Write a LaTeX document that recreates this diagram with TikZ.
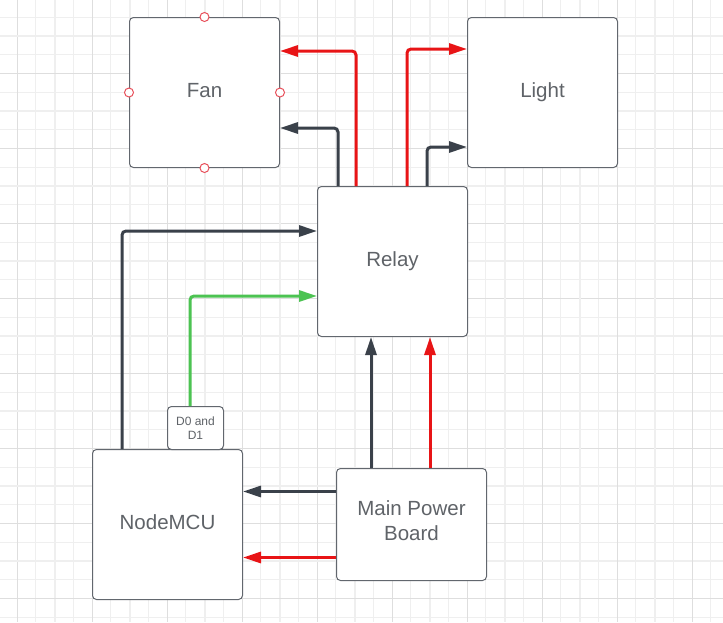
\documentclass[tikz,border=0pt]{standalone}
\usepackage{fontspec}
\setmainfont{Liberation Sans}
\usetikzlibrary{arrows.meta,calc}
\definecolor{wireD}{HTML}{3A414A}
\definecolor{wireR}{HTML}{E81416}
\definecolor{wireG}{HTML}{4CC352}
\definecolor{boxline}{HTML}{62676E}
\definecolor{txt}{HTML}{5F6368}
\definecolor{gridA}{HTML}{EFEFEF}
\definecolor{gridB}{HTML}{DEDEDE}
\definecolor{dotred}{HTML}{E8505B}
\tikzset{
  blk/.style={draw=boxline, line width=1pt, fill=white, rounded corners=4pt,
    minimum width=150pt, minimum height=150pt, anchor=north west, inner sep=0pt},
  lbl/.style={text=txt, font=\fontsize{20.5}{25}\selectfont, align=center, inner sep=0pt},
  lbl1/.style={lbl, text height=15pt, text depth=4pt, yshift=1pt},
  wire/.style={line width=3pt, rounded corners=4pt,
    -{Triangle[length=18pt,width=11pt]}},
  wd/.style={wire, draw=wireD, color=wireD},
  wr/.style={wire, draw=wireR, color=wireR},
  wg/.style={wire, draw=wireG, color=wireG},
  pin/.style={circle, draw=dotred, fill=white, line width=1pt, minimum size=9pt, inner sep=0pt},
}
\begin{document}
\begin{tikzpicture}[x=1pt,y=-1pt]
\useasboundingbox (0,0) rectangle (723,622);
\fill[white] (0,0) rectangle (723,622);
% grid
\foreach \i in {0,...,39} {
  \draw[gridA, line width=0.8pt] ({-1.75+18.75*\i},0) -- ({-1.75+18.75*\i},622);
  \draw[gridA, line width=0.8pt] (0,{-1.75+18.75*\i}) -- (723,{-1.75+18.75*\i});
}
\foreach \i in {0,...,10} {
  \draw[gridA, line width=1.6pt] ({55+75*\i-75},0) -- ({55+75*\i-75},622);
  \draw[gridA, line width=1.6pt] (0,{36+75*\i-75}) -- (723,{36+75*\i-75});
  \draw[gridB, line width=0.7pt] ({17+75*\i},0) -- ({17+75*\i},622);
  \draw[gridB, line width=0.7pt] (0,{-2+75*\i}) -- (723,{-2+75*\i});
}
% blocks
\node[blk] (fan) at (129,17) {};
\node[blk] (light) at (467,17) {};
\node[blk] (relay) at (317,186) {};
\node[blk] (mcu) at (92,449) {};
\node[blk, minimum height=112pt] (mpb) at (336,468) {};
\node[blk, minimum width=56pt, minimum height=43pt, text=txt, align=center,
  font=\fontsize{12}{15}\selectfont] (d01) at (167,406) {D0 and\\[-0.5pt]D1};
\node[lbl1] (tfan) at (fan.center) {Fan};
\node[lbl1] (tlight) at (light.center) {Light};
\node[lbl1] (trelay) at (relay.center) {Relay};
\node[lbl1] (tmcu) at (mcu.center) {NodeMCU};
\node[lbl, yshift=4pt] (tmpb) at (mpb.center) {Main Power\\Board};
% pins on fan
\node[pin] (p1) at (fan.north) {};
\node[pin] (p2) at (fan.south) {};
\node[pin] (p3) at (fan.west) {};
\node[pin] (p4) at (fan.east) {};
% relay -> fan / light
\draw[wd] ([xshift=21pt]relay.north west) |- ([yshift=-111pt]fan.north east);
\draw[wr] ([xshift=39pt]relay.north west) |- ([yshift=-34pt]fan.north east);
\draw[wr] ([xshift=90pt]relay.north west) |- ([yshift=-32pt]light.north west);
\draw[wd] ([xshift=110pt]relay.north west) |- ([yshift=-130pt]light.north west);
% nodemcu -> relay
\draw[wd] ([xshift=30pt]mcu.north west) |- ([yshift=-45pt]relay.north west);
\draw[wg] ([xshift=23pt]d01.north west) |- ([yshift=-110pt]relay.north west);
% power board
\draw[wd] ([xshift=35pt]mpb.north west) -- ([xshift=54pt]relay.south west);
\draw[wr] ([xshift=94pt]mpb.north west) -- ([xshift=113pt]relay.south west);
\draw[wd] ([yshift=-23.5pt]mpb.north west) -- ([yshift=-42.5pt]mcu.north east);
\draw[wr] ([yshift=-89.5pt]mpb.north west) -- ([yshift=-108.5pt]mcu.north east);
\end{tikzpicture}
\end{document}
